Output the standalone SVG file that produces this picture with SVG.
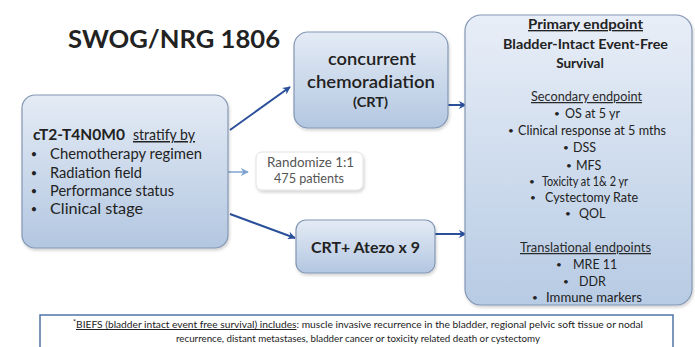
<svg xmlns="http://www.w3.org/2000/svg" width="695" height="347" viewBox="0 0 695 347">
<defs>
<linearGradient id="gBox" x1="0" y1="0" x2="0" y2="1">
<stop offset="0" stop-color="#e4ebf5"/>
<stop offset="1" stop-color="#b3c7e1"/>
</linearGradient>
<linearGradient id="gRight" x1="0" y1="0" x2="0" y2="1">
<stop offset="0" stop-color="#e8eef7"/>
<stop offset="1" stop-color="#b7cbe4"/>
</linearGradient>
<filter id="sh" x="-10%" y="-10%" width="125%" height="125%">
<feDropShadow dx="1" dy="2" stdDeviation="1.5" flood-color="#000" flood-opacity="0.18"/>
</filter>
<marker id="ah" viewBox="0 0 10 10" refX="9" refY="5" markerWidth="8" markerHeight="8" markerUnits="userSpaceOnUse" orient="auto">
<path d="M0,0 L10,5 L0,10 L3,5 Z" fill="#2a4f9b"/>
</marker>
<marker id="ahl" viewBox="0 0 10 10" refX="9" refY="5" markerWidth="8" markerHeight="8" markerUnits="userSpaceOnUse" orient="auto">
<path d="M0,0 L10,5 L0,10 L3,5 Z" fill="#7ea3d0"/>
</marker>
</defs>
<style>
text{font-family:Lato,"Open Sans","Liberation Sans",sans-serif;fill:#222}
.box{fill:url(#gBox);stroke:#8397b3;stroke-width:1.2;filter:url(#sh)}
.b{font-weight:bold}
.u{text-decoration:underline}
.l{font-size:14.5px}
.r{font-size:12.5px;fill:#2a2a2a}
.c{text-anchor:middle}
.bl{text-anchor:middle;font-size:10px}
.bll{text-anchor:middle;font-size:11px}
.conn{stroke:#2a4f9b;stroke-width:2;fill:none;marker-end:url(#ah)}
</style>
<rect width="695" height="347" fill="#ffffff"/>
<text id="title" x="68" y="48" class="b" font-size="24" textLength="212" lengthAdjust="spacingAndGlyphs">SWOG/NRG 1806</text>

<g id="connectors">
<line class="conn" x1="230" y1="130" x2="290" y2="87"/>
<line class="conn" x1="230" y1="214" x2="295" y2="238"/>
<line x1="228" y1="172" x2="248" y2="172" stroke="#7ea3d0" stroke-width="1.5" marker-end="url(#ahl)"/>
<line class="conn" x1="448" y1="105" x2="466" y2="105"/>
<line class="conn" x1="435" y1="234" x2="466" y2="234"/>
</g>

<g id="eligibility">
<rect class="box" x="22" y="95" width="206" height="153" rx="13"/>
<text x="33" y="140" class="b" font-size="15.5" textLength="92" lengthAdjust="spacingAndGlyphs">cT2-T4N0M0</text>
<text x="133" y="140" class="u" font-size="15" textLength="62" lengthAdjust="spacingAndGlyphs">stratify by</text>
<g class="l">
<text class="bll" x="34" y="158">•</text><text x="50" y="159" textLength="152" lengthAdjust="spacingAndGlyphs">Chemotherapy regimen</text>
<text class="bll" x="34" y="176.5">•</text><text x="50" y="177.5" textLength="92" lengthAdjust="spacingAndGlyphs">Radiation field</text>
<text class="bll" x="34" y="195">•</text><text x="50" y="196" textLength="124" lengthAdjust="spacingAndGlyphs">Performance status</text>
<text class="bll" x="34" y="213">•</text><text x="50" y="214" textLength="93" lengthAdjust="spacingAndGlyphs">Clinical stage</text>
</g>
</g>

<g id="crt">
<rect class="box" x="294" y="32" width="154" height="96" rx="14"/>
<text x="372" y="65" class="c" font-size="18" font-weight="600" textLength="88" lengthAdjust="spacingAndGlyphs">concurrent</text>
<text x="371" y="88" class="c" font-size="18" font-weight="600" textLength="128" lengthAdjust="spacingAndGlyphs">chemoradiation</text>
<text x="370.5" y="107" class="c b" font-size="13" fill="#333" textLength="35" lengthAdjust="spacingAndGlyphs">(CRT)</text>
</g>

<g id="crt-atezo">
<rect class="box" x="296" y="220" width="139" height="53" rx="10"/>
<text x="365.5" y="253" class="c b" font-size="16" textLength="109" lengthAdjust="spacingAndGlyphs">CRT+ Atezo  x 9</text>
</g>

<g id="randomize">
<rect x="256" y="152" width="107" height="38" rx="6" fill="#ffffff" stroke="#e2e2e2" stroke-width="1" filter="url(#sh)"/>
<text x="310.5" y="167" class="c" font-size="12.5" style="fill:#555" textLength="87" lengthAdjust="spacingAndGlyphs">Randomize 1:1</text>
<text x="309" y="183" class="c" font-size="12.5" style="fill:#555" textLength="70" lengthAdjust="spacingAndGlyphs">475 patients</text>
</g>

<g id="endpoints">
<rect x="465" y="15" width="227" height="290" rx="16" fill="url(#gRight)" stroke="#8397b3" stroke-width="1.2" filter="url(#sh)"/>
<text x="585.5" y="29" class="c b u" font-size="13.5" textLength="115" lengthAdjust="spacingAndGlyphs">Primary endpoint</text>
<text x="585.5" y="49" class="c b" font-size="13.5" textLength="165" lengthAdjust="spacingAndGlyphs">Bladder-Intact Event-Free</text>
<text x="580" y="68" class="c b" font-size="13.5">Survival</text>
<text x="586.5" y="101" class="c u r" textLength="111" lengthAdjust="spacingAndGlyphs">Secondary endpoint</text>
<g class="r">
<text class="bl" x="557" y="117">•</text><text x="565" y="118">OS at 5 yr</text>
<text class="bl" x="511" y="134">•</text><text x="518" y="135" textLength="148" lengthAdjust="spacingAndGlyphs">Clinical response at 5 mths</text>
<text class="bl" x="566" y="151">•</text><text x="573" y="152">DSS</text>
<text class="bl" x="569" y="169">•</text><text x="576" y="170">MFS</text>
<text class="bl" x="532" y="185">•</text><text x="542" y="186" textLength="86" lengthAdjust="spacingAndGlyphs">Toxicity at 1&amp; 2 yr</text>
<text class="bl" x="533" y="201">•</text><text x="545" y="202" textLength="93" lengthAdjust="spacingAndGlyphs">Cystectomy Rate</text>
<text class="bl" x="568" y="217">•</text><text x="579" y="218">QOL</text>
</g>
<text x="585.5" y="252" class="c u r" textLength="131" lengthAdjust="spacingAndGlyphs">Translational endpoints</text>
<g class="r">
<text class="bl" x="559" y="268">•</text><text x="573" y="269">MRE 11</text>
<text class="bl" x="566" y="285">•</text><text x="579" y="286">DDR</text>
<text class="bl" x="535" y="301">•</text><text x="546" y="302" textLength="96" lengthAdjust="spacingAndGlyphs">Immune markers</text>
</g>
</g>

<g id="footnote">
<rect x="40" y="315" width="633" height="45" fill="#ffffff" stroke="#4f74a8" stroke-width="1.5"/>
<text x="73" y="328" font-size="10" fill="#333" textLength="570" lengthAdjust="spacingAndGlyphs"><tspan font-size="7" dy="-3">*</tspan><tspan dy="3" class="u">BIEFS (bladder intact event  free survival) includes</tspan>: muscle invasive recurrence in the bladder, regional pelvic soft tissue or nodal</text>
<text x="358" y="342" class="c" font-size="10" fill="#333" textLength="364" lengthAdjust="spacingAndGlyphs">recurrence, distant metastases, bladder cancer or toxicity related death or cystectomy</text>
</g>
</svg>
